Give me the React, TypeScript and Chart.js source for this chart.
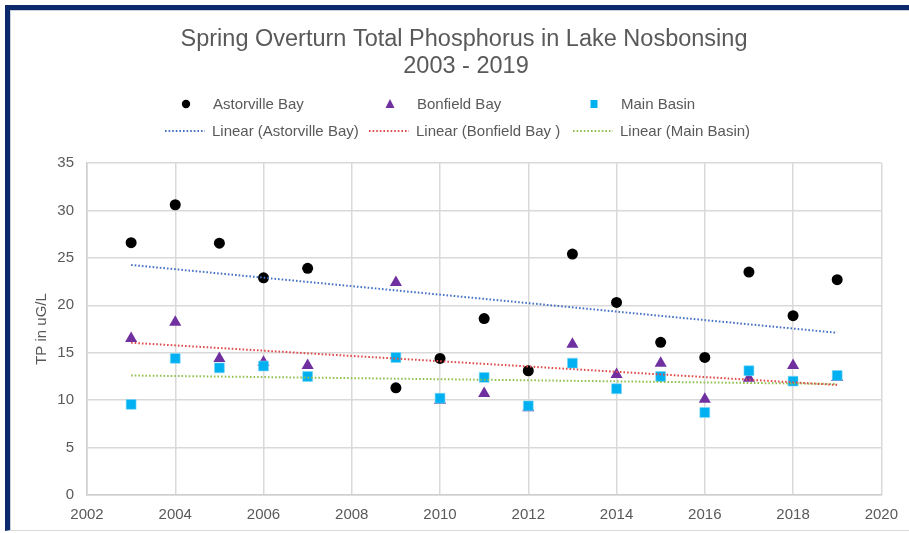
import React, { useEffect, useRef } from "react";
import { Chart, registerables } from "chart.js";

Chart.register(...registerables);

const titleLines = ["Spring Overturn Total Phosphorus in Lake Nosbonsing", "2003 - 2019"];
const yAxisTitle = "TP in uG/L";
const years = [2003, 2004, 2005, 2006, 2007, 2008, 2009, 2010, 2011, 2012, 2013, 2014, 2015, 2016, 2017, 2018, 2019];
const astorville = [26.6, 30.6, 26.55, 22.9, 23.9, null, 11.3, 14.4, 18.6, 13.1, 25.4, 20.3, 16.1, 14.5, 23.5, 18.9, 22.7];
const bonfield = [16.5, 18.2, 14.4, 14.0, 13.65, null, 22.4, 10.0, 10.7, 9.2, 15.9, 12.7, 13.9, 10.1, 12.3, 13.65, 12.4];
const mainBasin = [9.55, 14.4, 13.4, 13.6, 12.5, null, 14.5, 10.2, 12.4, 9.4, 13.9, 11.2, 12.5, 8.7, 13.1, 12.0, 12.6];
const trendYears = [2003, 2019];
const trendAstorville = [24.25, 17.1];
const trendBonfield = [16.05, 11.6];
const trendMain = [12.6, 11.7];
const seriesNames = ["Astorville Bay", "Bonfield Bay", "Main Basin"];
const trendNames = ["Linear (Astorville Bay)", "Linear (Bonfield Bay )", "Linear (Main Basin)"];

const FONT = "'Liberation Sans', Arial, sans-serif";
const TEXT = "#595959";
const C_AST = "#000000";
const C_BON = "#7030a0";
const C_MAIN = "#00b0f0";
const T_AST = "#4472c4";
const T_BON = "#e04b4b";
const T_MAIN = "#92c050";

const pts = (vals: (number | null)[]) =>
  years.map((x, i) => ({ x, y: vals[i] })).filter((p) => p.y !== null);
const tpts = (vals: number[]) => trendYears.map((x, i) => ({ x, y: vals[i] }));

const headerPlugin = {
  id: "header",
  afterDraw(chart: any) {
    const ctx = chart.ctx as CanvasRenderingContext2D;
    ctx.save();
    ctx.fillStyle = TEXT;
    ctx.textAlign = "center";
    ctx.textBaseline = "middle";
    ctx.font = `23.5px ${FONT}`;
    ctx.fillText(titleLines[0], 464, 40);
    ctx.fillText(titleLines[1], 466, 67);

    ctx.font = `15px ${FONT}`;
    ctx.textAlign = "left";
    const cols = [165, 369, 573];
    const row1 = 105;
    const row2 = 132;
    const markerColors = [C_AST, C_BON, C_MAIN];
    cols.forEach((cx, i) => {
      const mx = cx + 21;
      ctx.fillStyle = markerColors[i];
      ctx.beginPath();
      if (i === 0) {
        ctx.arc(mx, row1 - 1, 4.2, 0, Math.PI * 2);
      } else if (i === 1) {
        ctx.moveTo(mx, row1 - 6);
        ctx.lineTo(mx + 4.5, row1 + 3);
        ctx.lineTo(mx - 4.5, row1 + 3);
        ctx.closePath();
      } else {
        ctx.rect(mx - 3.5, row1 - 5, 7, 8);
      }
      ctx.fill();
      ctx.fillStyle = TEXT;
      ctx.fillText(seriesNames[i], cx + 48, row1);
    });
    const trendColors = [T_AST, T_BON, T_MAIN];
    cols.forEach((cx, i) => {
      ctx.strokeStyle = trendColors[i];
      ctx.lineWidth = 2;
      ctx.setLineDash([1.6, 2]);
      ctx.beginPath();
      ctx.moveTo(cx, row2 - 1);
      ctx.lineTo(cx + 40, row2 - 1);
      ctx.stroke();
      ctx.setLineDash([]);
      ctx.fillStyle = TEXT;
      ctx.fillText(trendNames[i], cx + 47, row2);
    });
    ctx.restore();
  },
};

export default function App() {
  const ref = useRef<HTMLCanvasElement | null>(null);
  useEffect(() => {
    if (!ref.current) return;
    const trendDs = (label: string, data: any, color: string) => ({
      type: "line" as const,
      label,
      data,
      showLine: true,
      borderColor: color,
      backgroundColor: color,
      borderWidth: 2,
      borderDash: [1.6, 2],
      pointRadius: 0,
      fill: false,
      order: 0,
    });
    const chart = new Chart(ref.current, {
      type: "scatter",
      data: {
        datasets: [
          trendDs(trendNames[0], tpts(trendAstorville), T_AST),
          trendDs(trendNames[1], tpts(trendBonfield), T_BON),
          trendDs(trendNames[2], tpts(trendMain), T_MAIN),
          {
            label: seriesNames[2],
            data: pts(mainBasin),
            pointStyle: "rect",
            pointRadius: 7,
            backgroundColor: C_MAIN,
            borderColor: "#7fd8f7",
            borderWidth: 0.6,
            order: 1,
          },
          {
            label: seriesNames[1],
            data: pts(bonfield),
            pointStyle: "triangle",
            pointRadius: 7,
            backgroundColor: C_BON,
            borderColor: C_BON,
            borderWidth: 0,
            order: 2,
          },
          {
            label: seriesNames[0],
            data: pts(astorville),
            pointStyle: "circle",
            pointRadius: 5.5,
            backgroundColor: C_AST,
            borderColor: C_AST,
            borderWidth: 0,
            order: 3,
          },
        ] as any,
      },
      options: {
        responsive: false,
        animation: false,
        layout: { padding: { top: 163, right: 27, left: 0, bottom: 0 } },
        plugins: {
          legend: { display: false },
          title: { display: false },
          tooltip: { enabled: false },
        },
        scales: {
          x: {
            type: "linear",
            min: 2002,
            max: 2020,
            ticks: {
              stepSize: 2,
              color: TEXT,
              font: { family: FONT, size: 15 },
              padding: 11,
              callback: (v: any) => String(v),
            },
            grid: { color: "#d9d9d9", lineWidth: 1.5, drawTicks: false },
            border: { color: "#cfcfcf", width: 1.5 },
            afterFit: (s: any) => {
              s.height = 38;
            },
          },
          y: {
            min: 0,
            max: 35,
            ticks: {
              stepSize: 5,
              color: TEXT,
              font: { family: FONT, size: 15 },
              padding: 13,
            },
            grid: { color: "#d9d9d9", lineWidth: 1.5, drawTicks: false },
            border: { color: "#cfcfcf", width: 1.5 },
            title: {
              display: true,
              text: yAxisTitle,
              color: TEXT,
              font: { family: FONT, size: 15 },
              padding: { top: 33, bottom: 0 },
            },
            afterFit: (s: any) => {
              s.width = 87;
            },
          },
        },
      },
      plugins: [headerPlugin],
    } as any);
    return () => chart.destroy();
  }, []);

  return (
    <div style={{ position: "fixed", left: 0, top: 0, width: 909, height: 533, background: "#ffffff", overflow: "hidden" }}>
      <canvas ref={ref} width={909} height={533} style={{ position: "absolute", left: 0, top: 0, width: 909, height: 533 }} />
      <div
        style={{
          position: "absolute",
          left: 5,
          top: 5,
          width: 920,
          height: 520,
          borderTop: "5px solid #0c2a6b",
          borderLeft: "5px solid #0c2a6b",
          borderBottom: "1px solid #d9d9d9",
          boxShadow: "inset 1px 1px 0 #c9cdd6",
          pointerEvents: "none",
        }}
      />
    </div>
  );
}
